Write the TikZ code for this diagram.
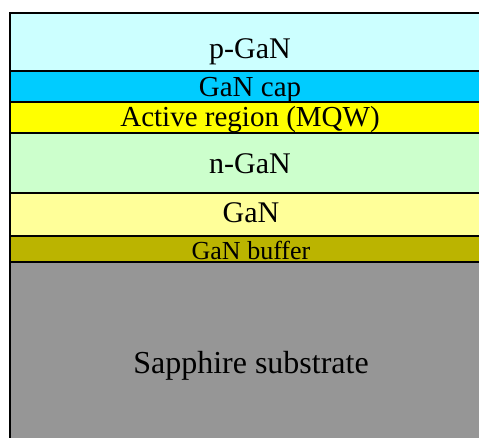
\documentclass[tikz,border=0pt]{standalone}
\usepackage{fontspec}
\setmainfont{Liberation Serif}
\definecolor{pgan}{RGB}{204,255,255}
\definecolor{capc}{RGB}{0,204,255}
\definecolor{active}{RGB}{255,255,0}
\definecolor{ngan}{RGB}{204,255,204}
\definecolor{ganc}{RGB}{255,255,153}
\definecolor{buffer}{RGB}{187,180,0}
\definecolor{sapph}{RGB}{150,150,150}
\tikzset{
  layer/.style={draw=black, line width=1.8pt},
  lbl/.style={anchor=base, inner sep=0pt, text=black},
  big/.style={font=\fontsize{30}{34}\selectfont},
  mid/.style={font=\fontsize{29}{33}\selectfont},
  small/.style={font=\fontsize{26}{30}\selectfont},
  huge/.style={font=\fontsize{32}{36}\selectfont},
}
\begin{document}
\begin{tikzpicture}[x=1pt,y=-1pt]
\useasboundingbox (0,0) rectangle (479,437);
\clip (0,0) rectangle (479,437);
\fill[white] (0,0) rectangle (479,437);
\filldraw[layer, fill=pgan]   (10,13)  rectangle (495,71);
\filldraw[layer, fill=capc]   (10,71)  rectangle (495,102);
\filldraw[layer, fill=active] (10,102) rectangle (495,133);
\filldraw[layer, fill=ngan]   (10,133) rectangle (495,193);
\filldraw[layer, fill=ganc]   (10,193) rectangle (495,236);
\filldraw[layer, fill=buffer] (10,236) rectangle (495,262);
\filldraw[layer, fill=sapph]  (10,262) rectangle (495,450);
\node[lbl, big]   (p)   at (250,58)  {p-GaN};
\node[lbl, mid]   (cap) at (250,96)  {GaN cap};
\node[lbl, mid]   (act) at (250,126) {Active region (MQW)};
\node[lbl, big]   (n)   at (250,173) {n-GaN};
\node[lbl, big]   (g)   at (251,222) {GaN};
\node[lbl, small] (buf) at (251,259) {GaN buffer};
\node[lbl, huge]  (sub) at (251,373) {Sapphire substrate};
\end{tikzpicture}
\end{document}
